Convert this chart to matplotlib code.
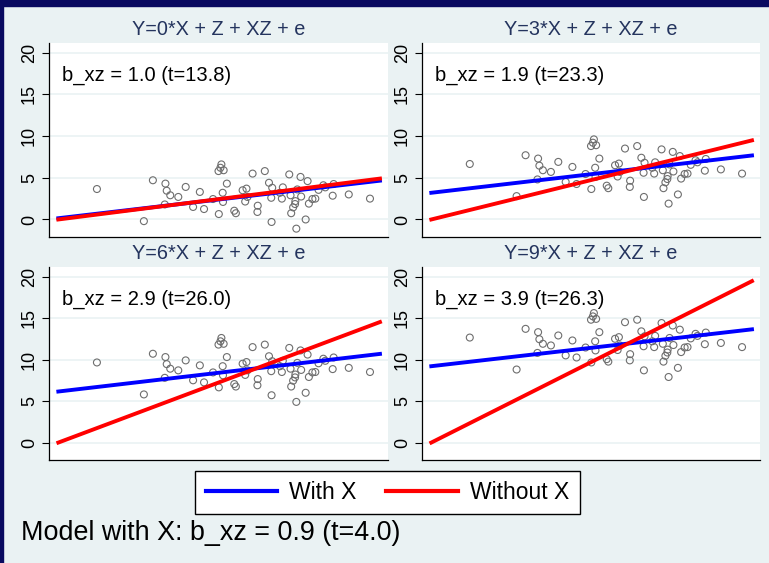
import matplotlib
matplotlib.use("Agg")
import matplotlib.pyplot as plt
from matplotlib.patches import Rectangle
from matplotlib.lines import Line2D

plt.rcParams['font.family'] = ['Liberation Sans', 'DejaVu Sans']

# scatter (same cloud in every panel, shifted up by the X effect)
pts_x = [0.120, 0.266, 0.294, 0.333, 0.337, 0.331, 0.348, 0.373, 0.396, 0.419,
         0.440, 0.453, 0.481, 0.499, 0.507, 0.504, 0.498, 0.514, 0.511, 0.512,
         0.524, 0.547, 0.552, 0.573, 0.585, 0.581, 0.588, 0.604, 0.620, 0.619,
         0.642, 0.655, 0.662, 0.665, 0.663, 0.689, 0.698, 0.695, 0.718, 0.722,
         0.724, 0.730, 0.737, 0.736, 0.740, 0.743, 0.753, 0.755, 0.769, 0.775,
         0.779, 0.790, 0.799, 0.809, 0.824, 0.830, 0.856, 0.853, 0.903, 0.969]
pts_y = [3.65, -0.2, 4.7, 4.3, 3.45, 1.8, 2.9, 2.7, 3.9, 1.5,
         3.3, 1.25, 2.45, 0.65, 6.6, 6.2, 5.8, 5.9, 3.2, 2.1,
         4.3, 1.05, 0.75, 3.5, 3.7, 2.15, 2.7, 5.5, 1.65, 0.9,
         5.8, 4.4, 2.6, 3.8, -0.3, 3.2, 3.85, 2.5, 5.4, 2.9,
         0.75, 1.45, 2.2, 1.85, -1.1, 3.6, 5.1, 2.75, 0.0, 4.6,
         1.9, 2.45, 2.5, 3.55, 4.1, 3.85, 4.25, 2.85, 3.0, 2.5]
shifts = [0, 3, 6, 9]

titles = ["Y=0*X + Z + XZ + e", "Y=3*X + Z + XZ + e",
          "Y=6*X + Z + XZ + e", "Y=9*X + Z + XZ + e"]
labels = ["b_xz = 1.0 (t=13.8)", "b_xz = 1.9 (t=23.3)",
          "b_xz = 2.9 (t=26.0)", "b_xz = 3.9 (t=26.3)"]

# fitted lines: value at left end and right end
with_start = [0.15, 3.2, 6.15, 9.2]
with_end = [4.65, 7.67, 10.68, 13.64]
without_start = [0.0, 0.0, 0.0, 0.0]
without_end = [4.9, 9.48, 14.52, 19.45]

W, H = 769, 563
bg = '#eaf2f3'
navy = '#0a0a60'
fig = plt.figure(figsize=(W / 100, H / 100), dpi=100, facecolor=bg)
fig.patches.append(Rectangle((0, 1 - 6 / H), 1, 6 / H, transform=fig.transFigure,
                             color=navy, zorder=0))
fig.patches.append(Rectangle((0, 0), 3 / W, 1, transform=fig.transFigure,
                             color=navy, zorder=0))

boxes = [(49, 388, 43, 237), (422, 760, 43, 237),
         (49, 388, 267, 460), (422, 760, 267, 460)]

for i in range(4):
    l, r, t, b = boxes[i]
    ax = fig.add_axes([l / W, 1 - b / H, (r - l) / W, (b - t) / H])
    ax.set_facecolor('white')
    ax.scatter(pts_x, [y + shifts[i] for y in pts_y], s=25, facecolors='none',
               edgecolors='#6e6e6e', linewidths=0.8, zorder=3)
    ax.plot([0, 1], [with_start[i], with_end[i]], color='#0000ff', lw=2.8, zorder=4)
    ax.plot([0, 1], [without_start[i], without_end[i]], color='#ff0000', lw=2.8, zorder=5)
    ax.set_xlim(-0.029, 1.025)
    ax.set_ylim(-2.1, 21.15)
    ax.set_yticks([0, 5, 10, 15, 20])
    ax.set_xticks([])
    ax.tick_params(axis='y', length=5, width=0.8, labelsize=13, pad=3,
                   labelrotation=90)
    for lab in ax.get_yticklabels():
        lab.set_va('center')
    ax.grid(axis='y', color=bg, lw=1.2)
    ax.set_axisbelow(True)
    for s in ['top', 'right']:
        ax.spines[s].set_visible(False)
    ax.spines['left'].set_linewidth(0.9)
    ax.spines['bottom'].set_linewidth(0.9)
    ax.annotate(titles[i], xy=(0.5, 1), xycoords='axes fraction',
                xytext=(0, 10), textcoords='offset points',
                ha='center', va='center', fontsize=14.3, color='#24345e')
    ax.text(0.01, 17.3, labels[i], ha='left', va='center', fontsize=14.5)

handles = [Line2D([], [], color='#0000ff', lw=3),
           Line2D([], [], color='#ff0000', lw=3)]
leg = fig.legend(handles, ["With X", "Without X"], loc='center',
                 bbox_to_anchor=(387.5 / W, 1 - 492.5 / H), ncol=2,
                 fontsize=16.5, frameon=True, fancybox=False,
                 edgecolor='black', framealpha=1, handlelength=3.1,
                 handletextpad=0.55, columnspacing=1.3, borderpad=0.45)
leg.get_frame().set_linewidth(1)

fig.text(21 / W, 1 - 533 / H, "Model with X: b_xz = 0.9 (t=4.0)",
         ha='left', va='center', fontsize=19.4)

fig.savefig("out.png", dpi=100, facecolor=bg)
